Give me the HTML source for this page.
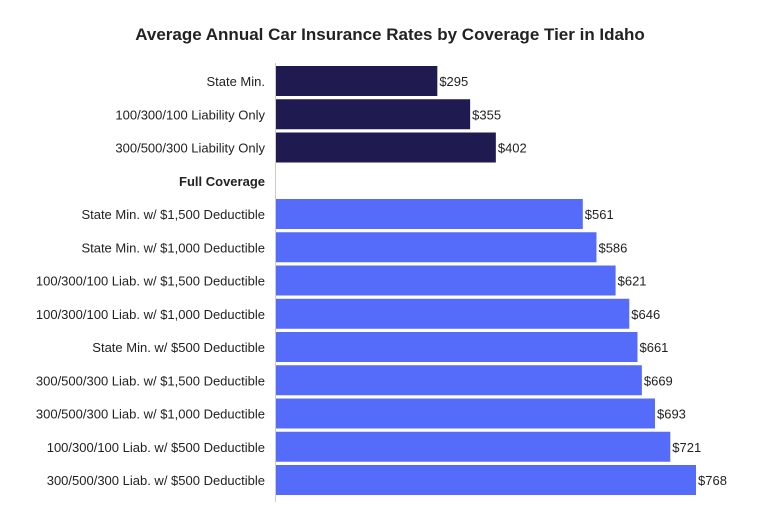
<!DOCTYPE html>
<html><head><meta charset="utf-8"><style>
body{margin:0;background:#fff;font-family:"Liberation Sans",sans-serif;}
svg text{font-family:"Liberation Sans",sans-serif;}
</style></head><body>
<svg id="chart" width="780" height="520" viewBox="0 0 780 520" xmlns="http://www.w3.org/2000/svg">
<rect width="780" height="520" fill="#fff"/>
<text x="390" y="40" text-anchor="middle" font-size="17" font-weight="bold" fill="#222">Average Annual Car Insurance Rates by Coverage Tier in Idaho</text>
<g id="bars"></g>
<line x1="275.5" y1="63" x2="275.5" y2="502" stroke="#ccc" stroke-width="1"/>
</svg>
<script>
const categories=["State Min.","100/300/100 Liability Only","300/500/300 Liability Only","Full Coverage","State Min. w/ $1,500 Deductible","State Min. w/ $1,000 Deductible","100/300/100 Liab. w/ $1,500 Deductible","100/300/100 Liab. w/ $1,000 Deductible","State Min. w/ $500 Deductible","300/500/300 Liab. w/ $1,500 Deductible","300/500/300 Liab. w/ $1,000 Deductible","100/300/100 Liab. w/ $500 Deductible","300/500/300 Liab. w/ $500 Deductible"];
const values=[295,355,402,null,561,586,621,646,661,669,693,721,768];
const groups=["liability","liability","liability","header","full","full","full","full","full","full","full","full","full"];
const x0=276, xScale=v=>x0+v*(420/768);
const yCenter=i=>81+i*33.25;
const bh=30;
const g=document.getElementById('bars');
const ns="http://www.w3.org/2000/svg";
categories.forEach((c,i)=>{
  const y=yCenter(i);
  const lab=document.createElementNS(ns,'text');
  
  
  lab.setAttribute('x',265);lab.setAttribute('y',y+5);
  lab.setAttribute('text-anchor','end');lab.setAttribute('font-size','13');
  lab.setAttribute('fill','#222');
  if(groups[i]==='header'){lab.setAttribute('font-weight','bold');}
  lab.textContent=c;g.appendChild(lab);
  if(values[i]==null)return;
  const r=document.createElementNS(ns,'rect');
  
  
  r.setAttribute('x',x0);r.setAttribute('y',y-bh/2);
  r.setAttribute('width',xScale(values[i])-x0);r.setAttribute('height',bh);
  r.setAttribute('fill',groups[i]==='liability'?'#1f1a4f':'#556cfb');
  g.appendChild(r);
  const t=document.createElementNS(ns,'text');
  
  
  t.setAttribute('x',xScale(values[i])+2);t.setAttribute('y',y+5);
  t.setAttribute('font-size','13');t.setAttribute('fill','#222');
  t.textContent='$'+values[i];g.appendChild(t);
});
</script>
</body></html>
